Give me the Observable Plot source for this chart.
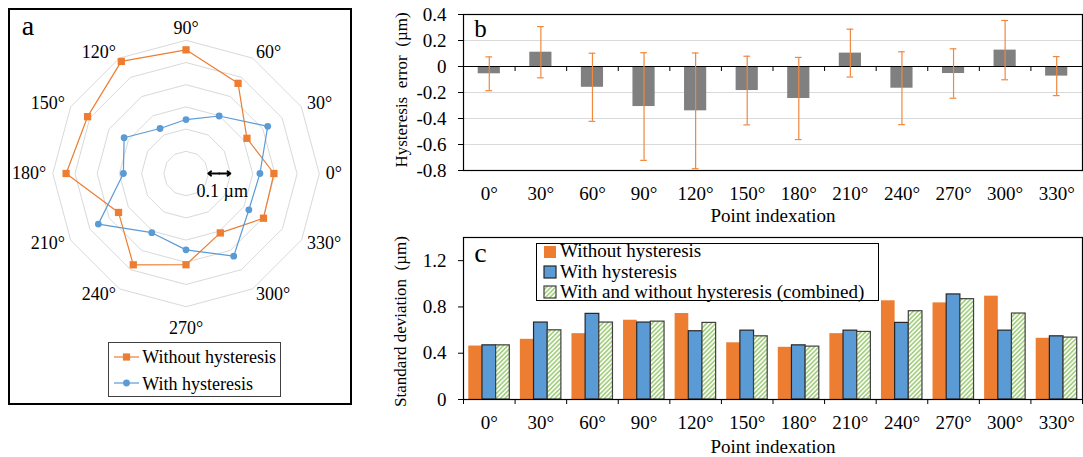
<!DOCTYPE html>
<html>
<head>
<meta charset="utf-8">
<script src="https://cdn.jsdelivr.net/npm/d3@7"></script>
<script src="https://cdn.jsdelivr.net/npm/@observablehq/plot@0.6"></script>
<style>
  body { margin: 0; background: #fff; }
  #root { position: relative; width: 1083px; height: 457px; overflow: hidden; background: #fff;
          font-family: "Liberation Serif", "Times New Roman", serif; color: #000; }
  .abs { position: absolute; }
  #panelA { left: 8px; top: 8px; width: 344px; height: 397px; border: 2px solid #000; box-sizing: border-box; }
  .txt { position: absolute; line-height: 1; white-space: pre; }
</style>
</head>
<body>
<div id="root"></div>
<script>
// ---------------- DATA ----------------
const angles = [0, 30, 60, 90, 120, 150, 180, 210, 240, 270, 300, 330];
const angleLabels = ["0°", "30°", "60°", "90°", "120°", "150°", "180°", "210°", "240°", "270°", "300°", "330°"];
const ringValues = [0.1, 0.2, 0.3, 0.4, 0.5, 0.6];
// panel a: radial values (µm)
const radiusWithout = [0.396, 0.317, 0.469, 0.557, 0.583, 0.512, 0.540, 0.351, 0.475, 0.411, 0.309, 0.403];
const radiusWith    = [0.333, 0.425, 0.299, 0.243, 0.234, 0.322, 0.282, 0.456, 0.308, 0.344, 0.430, 0.327];
const scaleBar = [0.1, 0.2];
const scaleBarLabel = "0.1 µm";
// panel b: hysteresis error (µm) and error bar half-width
const hystError    = [-0.056, 0.110, -0.160, -0.308, -0.341, -0.185, -0.246, 0.103, -0.167, -0.054, 0.126, -0.074];
const hystErrorBar = [0.130, 0.197, 0.262, 0.414, 0.445, 0.264, 0.316, 0.184, 0.280, 0.190, 0.228, 0.150];
const yTicksB = [0.4, 0.2, 0, -0.2, -0.4, -0.6, -0.8];
const gridB = [0.2, -0.2, -0.4, -0.6];
// panel c: standard deviation (µm)
const sdWithout  = [0.462, 0.520, 0.569, 0.685, 0.743, 0.490, 0.451, 0.569, 0.853, 0.835, 0.893, 0.529];
const sdWith     = [0.468, 0.665, 0.740, 0.665, 0.590, 0.595, 0.468, 0.595, 0.662, 0.908, 0.595, 0.546];
const sdCombined = [0.468, 0.598, 0.665, 0.673, 0.662, 0.546, 0.457, 0.584, 0.763, 0.867, 0.743, 0.535];
const yTicksC = [0, 0.4, 0.8, 1.2];
const seriesA = ["Without hysteresis", "With hysteresis"];
const seriesC = ["Without hysteresis", "With hysteresis", "With and without hysteresis (combined)"];
const xTitle = "Point indexation";
const yTitleB = "Hysteresis  error  (µm)";
const yTitleC = "Standard deviation  (µm)";

// ---------------- STYLE ----------------
const FONT = '"Liberation Serif", "Times New Roman", serif';
const ORANGE = "#ED7D31", BLUE = "#5B9BD5", GRAY = "#808080", ERR = "#F0883E", GREEN = "#A4D07F";
const root = document.getElementById("root");

function addText(text, left, baseline, size) {
  const d = document.createElement("div");
  d.className = "txt";
  d.textContent = text;
  d.style.fontSize = size + "px";
  d.style.top = (baseline - 0.8375 * size) + "px";
  d.style.left = left + "px";
  root.appendChild(d);
  return d;
}
function place(el, left, top, w, h) {
  const wrap = document.createElement("div");
  wrap.className = "abs";
  Object.assign(wrap.style, {left: left + "px", top: top + "px", width: w + "px", height: h + "px"});
  wrap.appendChild(el);
  root.appendChild(wrap);
  return wrap;
}

// ---------------- PANEL A (radar) ----------------
const panelA = document.createElement("div");
panelA.id = "panelA"; panelA.className = "abs";
root.appendChild(panelA);

const rad = a => a * Math.PI / 180;
const px = (r, a) => r * Math.cos(rad(a));
const py = (r, a) => r * Math.sin(rad(a));
const ringData = ringValues.flatMap(r => angles.map(a => ({r, a})));
const labR = 0.63;

const plotA = Plot.plot({
  width: 340, height: 340,
  x: {domain: [-0.7, 0.7], range: [20.1, 330.9], axis: null},
  y: {domain: [-0.7, 0.7], range: [318.4, 7.6], axis: null},
  style: {fontFamily: FONT, fontSize: "18px", background: "transparent", color: "#000"},
  marks: [
    Plot.line(ringData, {x: d => px(d.r, d.a), y: d => py(d.r, d.a), z: "r", curve: "linear-closed", stroke: "#d9d9d9", strokeWidth: 1}),
    Plot.line(angles, {x: (a, i) => px(radiusWithout[i], a), y: (a, i) => py(radiusWithout[i], a), curve: "linear-closed", stroke: ORANGE, strokeWidth: 1.2}),
    Plot.dot(angles, {x: (a, i) => px(radiusWithout[i], a), y: (a, i) => py(radiusWithout[i], a), symbol: "square", r: 4.1, fill: ORANGE, stroke: "none"}),
    Plot.line(angles, {x: (a, i) => px(radiusWith[i], a), y: (a, i) => py(radiusWith[i], a), curve: "linear-closed", stroke: BLUE, strokeWidth: 1.2}),
    Plot.dot(angles, {x: (a, i) => px(radiusWith[i], a), y: (a, i) => py(radiusWith[i], a), symbol: "circle", r: 3.4, fill: BLUE, stroke: "none"}),
    // angle labels
    Plot.text(angles, {filter: a => Math.cos(rad(a)) > 0.01, x: a => px(labR, a), y: a => py(labR, a), text: (a, i) => angleLabels[i], textAnchor: "start"}),
    Plot.text(angles, {filter: a => Math.cos(rad(a)) < -0.01, x: a => px(labR, a), y: a => py(labR, a), text: (a, i) => angleLabels[i], textAnchor: "end"}),
    Plot.text(angles, {filter: a => a === 90, x: a => px(0.63, a), y: a => py(0.63, a), text: (a, i) => angleLabels[i], lineAnchor: "bottom"}),
    Plot.text(angles, {filter: a => a === 270, x: a => px(0.665, a), y: a => py(0.665, a), text: (a, i) => angleLabels[i], lineAnchor: "top"}),
    // scale bar
    Plot.arrow([scaleBar], {x1: d => (d[0] + d[1]) / 2, x2: d => d[0], y1: 0, y2: 0, stroke: "#000", strokeWidth: 1.8, headLength: 7, headAngle: 75}),
    Plot.arrow([scaleBar], {x1: d => (d[0] + d[1]) / 2, x2: d => d[1], y1: 0, y2: 0, stroke: "#000", strokeWidth: 1.8, headLength: 7, headAngle: 75}),
    Plot.text([scaleBar], {x: d => (d[0] + d[1]) / 2, y: 0, dy: 18, dx: 3, text: () => scaleBarLabel})
  ]
});
plotA.style.position = "absolute"; plotA.style.left = "0px"; plotA.style.top = "0px";
panelA.appendChild(plotA);

// panel label a
addText("a", 21.8, 35.3, 28);

// legend a
const legA = document.createElement("div");
legA.className = "abs";
Object.assign(legA.style, {left: "108px", top: "342px", width: "173px", height: "55px", border: "1px solid #404040", boxSizing: "border-box", background: "#fff"});
root.appendChild(legA);
const legASw = [
  {y: 357.3, color: ORANGE, shape: "square", base: 363.3},
  {y: 383.3, color: BLUE, shape: "circle", base: 390}
];
legASw.forEach((s, i) => {
  const sv = d3.create("svg").attr("width", 26).attr("height", 12)
    .style("position", "absolute").style("left", "114px").style("top", (s.y - 6) + "px");
  sv.append("line").attr("x1", 0).attr("x2", 25).attr("y1", 6).attr("y2", 6).attr("stroke", s.color).attr("stroke-width", 1.2);
  if (s.shape === "square") sv.append("rect").attr("x", 12.5 - 3.6).attr("y", 6 - 3.6).attr("width", 7.2).attr("height", 7.2).attr("fill", s.color);
  else sv.append("circle").attr("cx", 12.5).attr("cy", 6).attr("r", 3.4).attr("fill", s.color);
  root.appendChild(sv.node());
  addText(seriesA[i], 142.3, s.base, 18);
});

// ---------------- PANEL B ----------------
const n = angles.length;
const idx = d3.range(n);
const fmt = d => String(Number((+d).toFixed(1)));
const barHalf = 0.215, capHalf = 0.065;

const plotB = Plot.plot({
  width: 703, height: 228,
  marginLeft: 83, marginRight: 1, marginTop: 14, marginBottom: 58,
  x: {type: "linear", domain: [-0.5, n - 0.5]},
  y: {domain: [-0.8, 0.4]},
  style: {fontFamily: FONT, fontSize: "19px", background: "transparent", color: "#000"},
  marks: [
    Plot.ruleY(gridB, {stroke: "#d9d9d9", strokeWidth: 1}),
    Plot.rectY(idx, {x1: i => i - barHalf, x2: i => i + barHalf, y1: 0, y2: i => hystError[i], fill: GRAY}),
    Plot.ruleY([0], {stroke: "#000", strokeWidth: 1}),
    Plot.ruleX(d3.range(n + 1), {x: i => i - 0.5, y1: 0, y2: -0.0385, stroke: "#000"}),
    Plot.ruleX(idx, {x: i => i, y1: i => hystError[i] - hystErrorBar[i], y2: i => hystError[i] + hystErrorBar[i], stroke: ERR, strokeWidth: 1.2}),
    Plot.ruleY(idx, {x1: i => i - capHalf, x2: i => i + capHalf, y: i => hystError[i] + hystErrorBar[i], stroke: ERR, strokeWidth: 1.2}),
    Plot.ruleY(idx, {x1: i => i - capHalf, x2: i => i + capHalf, y: i => hystError[i] - hystErrorBar[i], stroke: ERR, strokeWidth: 1.2}),
    Plot.frame({stroke: "#000", strokeWidth: 1.2}),
    Plot.axisY({ticks: yTicksB, tickSize: 5, tickPadding: 12, tickFormat: fmt, label: null}),
    Plot.axisX({ticks: idx, tickSize: 0, tickPadding: 16, tickFormat: i => angleLabels[i], label: null}),
    Plot.text([xTitle], {frameAnchor: "bottom", dy: 45, textAnchor: "middle", lineAnchor: "middle", text: d => d}),
    Plot.text([yTitleB], {frameAnchor: "left", dx: -62.3, dy: -2.5, rotate: -90, textAnchor: "middle", lineAnchor: "middle", fontSize: 17, text: d => d}),
    Plot.text(["b"], {frameAnchor: "top-left", dx: 17, dy: 14.5, textAnchor: "middle", lineAnchor: "middle", fontSize: 25, text: d => d})
  ]
});
place(plotB, 380, 0, 703, 228);

// ---------------- PANEL C ----------------
const w3 = 0.265;
const plotC = Plot.plot({
  width: 703, height: 229,
  marginLeft: 83, marginRight: 1, marginTop: 9, marginBottom: 58,
  x: {type: "linear", domain: [-0.5, n - 0.5]},
  y: {domain: [0, 1.4]},
  style: {fontFamily: FONT, fontSize: "19px", background: "transparent", color: "#000"},
  marks: [
    Plot.rectY(idx, {x1: i => i - 1.5 * w3, x2: i => i - 0.5 * w3, y1: 0, y2: i => sdWithout[i], fill: ORANGE}),
    Plot.rectY(idx, {x1: i => i - 0.5 * w3, x2: i => i + 0.5 * w3, y1: 0, y2: i => sdWith[i], fill: BLUE, stroke: "#262626", strokeWidth: 1.2}),
    Plot.rectY(idx, {x1: i => i + 0.5 * w3, x2: i => i + 1.5 * w3, y1: 0, y2: i => sdCombined[i], fill: "url(#hatchC)", stroke: "#404040", strokeWidth: 1.2}),
    Plot.ruleX(d3.range(n + 1), {x: i => i - 0.5, y1: 0, y2: -0.0434, stroke: "#000"}),
    Plot.frame({stroke: "#000", strokeWidth: 1.2}),
    Plot.axisY({ticks: yTicksC, tickSize: 5, tickPadding: 12, tickFormat: fmt, label: null}),
    Plot.axisX({ticks: idx, tickSize: 0, tickPadding: 16, tickFormat: i => angleLabels[i], label: null}),
    Plot.text([xTitle], {frameAnchor: "bottom", dy: 47, textAnchor: "middle", lineAnchor: "middle", text: d => d}),
    Plot.text([yTitleC], {frameAnchor: "left", dx: -63, dy: 3, rotate: -90, textAnchor: "middle", lineAnchor: "middle", fontSize: 17, text: d => d}),
    Plot.text(["c"], {frameAnchor: "top-left", dx: 17, dy: 15.5, textAnchor: "middle", lineAnchor: "middle", fontSize: 28, text: d => d})
  ]
});
d3.select(plotC).insert("defs", ":first-child").html(
  `<pattern id="hatchC" patternUnits="userSpaceOnUse" width="3.2" height="3.2" patternTransform="rotate(45)">
     <rect width="3.2" height="3.2" fill="#fff"/><rect width="1.7" height="3.2" fill="${GREEN}"/></pattern>`);
place(plotC, 380, 228, 703, 229);

// legend c
const legC = document.createElement("div");
legC.className = "abs";
Object.assign(legC.style, {left: "536px", top: "242.7px", width: "343px", height: "58.3px", border: "1.5px solid #000", boxSizing: "border-box", background: "#fff"});
root.appendChild(legC);
const legCBase = [257.3, 277.7, 297.7];
seriesC.forEach((name, i) => {
  const sv = d3.create("svg").attr("width", 14).attr("height", 14)
    .style("position", "absolute").style("left", "543px").style("top", (legCBase[i] - 5.5 - 7) + "px");
  if (i === 2) sv.append("defs").html(`<pattern id="hatchL" patternUnits="userSpaceOnUse" width="3.2" height="3.2" patternTransform="rotate(45)"><rect width="3.2" height="3.2" fill="#fff"/><rect width="1.7" height="3.2" fill="${GREEN}"/></pattern>`);
  const fill = i === 0 ? ORANGE : i === 1 ? BLUE : "url(#hatchL)";
  const r = sv.append("rect").attr("x", 1).attr("y", 1).attr("width", 12).attr("height", 12).attr("fill", fill);
  if (i > 0) r.attr("stroke", i === 1 ? "#262626" : "#404040").attr("stroke-width", 1.2);
  root.appendChild(sv.node());
  addText(name, 560, legCBase[i], 19);
});
</script>
</body>
</html>
